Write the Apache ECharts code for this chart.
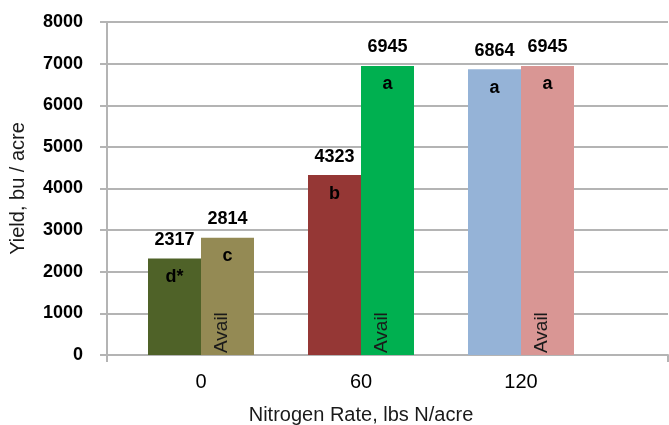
<!DOCTYPE html>
<html>
<head>
<meta charset="utf-8">
<script src="https://cdn.jsdelivr.net/npm/echarts@6/dist/echarts.min.js"></script>
<style>
html,body{margin:0;padding:0;background:#fff;}
#chart{width:669px;height:425px;}
</style>
</head>
<body>
<div id="chart"></div>
<script>
const categories = ['0', '60', '120'];
const firstValues = [2317, 4323, 6864];
const secondValues = [2814, 6945, 6945];
const firstLetters = ['d*', 'b', 'a'];
const secondLetters = ['c', 'a', 'a'];
const firstColors = ['#4F6228', '#953735', '#95B3D7'];
const secondColors = ['#948A54', '#00B050', '#D99694'];
const availText = 'Avail';
const yMin = 0, yMax = 8000, yStep = 1000;
const xTitle = 'Nitrogen Rate, lbs N/acre';
const yTitle = 'Yield, bu / acre';

const FONT = 'Liberation Sans, Arial, sans-serif';
const GRID_COLOR = '#b4b4b4';

function labelFor(letters) {
  return {
    show: true,
    position: ['50%', 0],
    align: 'center',
    verticalAlign: 'middle',
    formatter: p => '{v|' + p.value + '}\n{l|' + letters[p.dataIndex] + '}',
    rich: {
      v: { fontFamily: FONT, fontSize: 18, fontWeight: 'bold', color: '#000', lineHeight: 37, align: 'center' },
      l: { fontFamily: FONT, fontSize: 18, fontWeight: 'bold', color: '#000', lineHeight: 37, align: 'center' }
    }
  };
}

const chart = echarts.init(document.getElementById('chart'), null, { renderer: 'canvas' });
chart.setOption({
  animation: false,
  backgroundColor: '#fff',
  grid: [
    { left: 121, right: 68, top: 22, bottom: 70, outerBoundsMode: 'none', containLabel: false },
    { left: 107, right: 1, top: 22, bottom: 70, outerBoundsMode: 'none', containLabel: false }
  ],
  xAxis: [
    {
      type: 'category', gridIndex: 0, data: categories,
      axisLine: { show: false }, axisTick: { show: false },
      axisLabel: { fontFamily: FONT, fontSize: 20, color: '#000', margin: 17 },
      name: xTitle, nameLocation: 'middle', nameGap: 50,
      nameTextStyle: { fontFamily: FONT, fontSize: 20, color: '#1a1a1a' }
    },
    { type: 'category', gridIndex: 0, data: categories, show: false },
    {
      type: 'value', gridIndex: 1, min: 0, max: 1, interval: 1,
      axisLine: { show: true, lineStyle: { color: GRID_COLOR, width: 2 } },
      axisTick: { show: true, length: 7, lineStyle: { color: GRID_COLOR, width: 2 } },
      axisLabel: { show: false }, splitLine: { show: false }
    }
  ],
  yAxis: [
    { type: 'value', gridIndex: 0, min: yMin, max: yMax, interval: yStep, show: false },
    {
      type: 'value', gridIndex: 1, min: yMin, max: yMax, interval: yStep,
      axisLine: { show: true, lineStyle: { color: GRID_COLOR, width: 2 } },
      axisTick: { show: true, length: 7, lineStyle: { color: GRID_COLOR, width: 2 } },
      splitLine: { show: true, lineStyle: { color: GRID_COLOR, width: 2 } },
      axisLabel: { fontFamily: FONT, fontSize: 18, fontWeight: 'bold', color: '#000', margin: 24,
        formatter: v => String(v) },
      name: yTitle, nameLocation: 'middle', nameGap: 79,
      nameTextStyle: { fontFamily: FONT, fontSize: 20, color: '#1a1a1a' }
    }
  ],
  series: [
    {
      type: 'bar', xAxisIndex: 0, yAxisIndex: 0, barWidth: 53, barGap: 0,
      data: firstValues.map((v, i) => ({ value: v, itemStyle: { color: firstColors[i] } })),
      label: labelFor(firstLetters)
    },
    {
      type: 'bar', xAxisIndex: 0, yAxisIndex: 0, barWidth: 53, barGap: 0,
      data: secondValues.map((v, i) => ({ value: v, itemStyle: { color: secondColors[i] } })),
      label: labelFor(secondLetters)
    },
    {
      type: 'bar', xAxisIndex: 1, yAxisIndex: 0, barWidth: 53, barGap: 0, silent: true, z: 3,
      data: firstValues, itemStyle: { color: 'rgba(0,0,0,0)' }
    },
    {
      type: 'bar', xAxisIndex: 1, yAxisIndex: 0, barWidth: 53, barGap: 0, silent: true, z: 3,
      data: secondValues, itemStyle: { color: 'rgba(0,0,0,0)' },
      label: {
        show: true, position: 'insideBottom', distance: 2, rotate: 90,
        align: 'left', verticalAlign: 'middle', offset: [0, -6],
        formatter: () => availText,
        fontFamily: FONT, fontSize: 19, color: '#1a1a1a'
      }
    }
  ]
});
</script>
</body>
</html>
